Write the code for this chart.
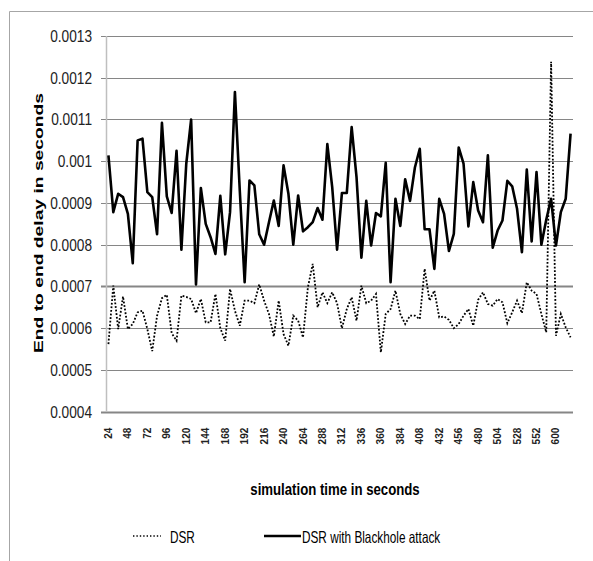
<!DOCTYPE html>
<html>
<head>
<meta charset="utf-8">
<script src="https://cdn.jsdelivr.net/npm/d3@7"></script>
<style>
  html, body { margin: 0; padding: 0; background: #fff; }
  svg { display: block; }
</style>
</head>
<body>
<div id="chart"></div>
<script>
// DSR without attack (dotted line), one value per sample
const dsrDelay = [
  0.000562, 0.000702, 0.000598, 0.000676, 0.000598, 0.000610, 0.000638, 0.000642,
  0.000598, 0.000545, 0.000630, 0.000672, 0.000680, 0.000588, 0.000570, 0.000678,
  0.000675, 0.000670, 0.000636, 0.000670, 0.000614, 0.000614, 0.000682, 0.000600,
  0.000570, 0.000694, 0.000642, 0.000606, 0.000666, 0.000666, 0.000660, 0.000705,
  0.000666, 0.000634, 0.000580, 0.000666, 0.000586, 0.000558, 0.000630, 0.000618,
  0.000578, 0.000698, 0.000754, 0.000650, 0.000686, 0.000660, 0.000686, 0.000660,
  0.000600, 0.000646, 0.000674, 0.000618, 0.000702, 0.000660, 0.000666, 0.000682,
  0.000542, 0.000634, 0.000646, 0.000690, 0.000634, 0.000610, 0.000630, 0.000630,
  0.000622, 0.000742, 0.000666, 0.000690, 0.000626, 0.000628, 0.000620, 0.000600,
  0.000610, 0.000630, 0.000646, 0.000606, 0.000668, 0.000686, 0.000658, 0.000654,
  0.000670, 0.000662, 0.000612, 0.000638, 0.000666, 0.000636, 0.000710, 0.000690,
  0.000682, 0.000634, 0.000590, 0.001238, 0.000582, 0.000634, 0.000602, 0.000578,
];

// DSR with blackhole attack (solid line)
const blackholeDelay = [
  0.001014, 0.000878, 0.000922, 0.000914, 0.000874, 0.000756, 0.001050, 0.001054,
  0.000926, 0.000914, 0.000825, 0.001092, 0.000916, 0.000876, 0.001025, 0.000788,
  0.000994, 0.001100, 0.000705, 0.000936, 0.000850, 0.000818, 0.000778, 0.000917,
  0.000777, 0.000878, 0.001166, 0.000930, 0.000710, 0.000954, 0.000942, 0.000825,
  0.000800, 0.000854, 0.000906, 0.000845, 0.000990, 0.000922, 0.000800, 0.000918,
  0.000832, 0.000842, 0.000854, 0.000888, 0.000860, 0.001041, 0.000938, 0.000788,
  0.000924, 0.000924, 0.001082, 0.000962, 0.000769, 0.000905, 0.000798, 0.000876,
  0.000868, 0.000996, 0.000710, 0.000910, 0.000845, 0.000957, 0.000905, 0.000985,
  0.001030, 0.000837, 0.000837, 0.000742, 0.000910, 0.000874, 0.000785, 0.000826,
  0.001033, 0.000994, 0.000844, 0.000950, 0.000882, 0.000854, 0.001014, 0.000793,
  0.000834, 0.000858, 0.000953, 0.000940, 0.000886, 0.000782, 0.000980, 0.000808,
  0.000974, 0.000800, 0.000860, 0.000910, 0.000798, 0.000878, 0.000910, 0.001066,
];

// printed category labels, one every 4 samples
const xTickLabels = [
  24, 48, 72, 96, 120, 144, 168, 192, 216, 240, 264, 288,
  312, 336, 360, 384, 408, 432, 456, 480, 504, 528, 552, 600,
];
const samplesPerLabel = 4;

const yTicks = [0.0004, 0.0005, 0.0006, 0.0007, 0.0008, 0.0009, 0.001, 0.0011, 0.0012, 0.0013];

const seriesNames = ["DSR", "DSR with Blackhole attack"];

const width = 593;
const height = 561;
const plot = { left: 106, right: 573, top: 36, bottom: 411.7 };

const font = "'Liberation Sans', Arial, sans-serif";

const svg = d3
  .select("#chart")
  .append("svg")
  .attr("width", width)
  .attr("height", height)
  .attr("viewBox", [0, 0, width, height]);

// outer frame
svg
  .append("path")
  .attr("d", `M9.5,${height} V11.5 H${width}`)
  .attr("fill", "none")
  .attr("stroke", "#a6a6a6")
  .attr("stroke-width", 1);

const x = d3
  .scaleBand()
  .domain(d3.range(blackholeDelay.length))
  .range([plot.left, plot.right]);

const y = d3
  .scaleLinear()
  .domain([0.0004, 0.0013])
  .range([plot.bottom, plot.top]);

const cx = (i) => x(i) + x.bandwidth() / 2;

// horizontal gridlines (with small outside ticks)
svg
  .append("g")
  .selectAll("line")
  .data(yTicks)
  .join("line")
  .attr("x1", plot.left - 5)
  .attr("x2", plot.right)
  .attr("y1", (d) => Math.round(y(d)) + 0.5)
  .attr("y2", (d) => Math.round(y(d)) + 0.5)
  .attr("stroke", "#868686")
  .attr("stroke-width", (d) => (d === 0.0004 || d === 0.0007 ? 2 : 1));

// y axis line
svg
  .append("line")
  .attr("x1", plot.left + 0.5)
  .attr("x2", plot.left + 0.5)
  .attr("y1", plot.top)
  .attr("y2", plot.bottom)
  .attr("stroke", "#bfbfbf")
  .attr("stroke-width", 1.5);

// y tick labels (the source text is tall and narrow, so stretch vertically)
const yAxis = d3
  .axisLeft(y)
  .tickValues(yTicks)
  .tickSize(0)
  .tickPadding(14)
  .tickFormat((d) => String(+d.toFixed(4)));

svg
  .append("g")
  .attr("transform", `translate(${plot.left},0)`)
  .call(yAxis)
  .call((g) => g.select(".domain").remove())
  .selectAll("text")
  .attr("font-family", font)
  .attr("font-size", 13.7)
  .attr("transform", "scale(1,1.24)")
  .attr("fill", "#222");

// x tick labels (rotated)
const labelIndex = xTickLabels.map((_, k) => k * samplesPerLabel);

svg
  .append("g")
  .selectAll("text")
  .data(labelIndex)
  .join("text")
  .attr("transform", (i) => `translate(${cx(i) + 3.5},${plot.bottom + 16}) rotate(-90)`)
  .attr("text-anchor", "end")
  .attr("font-family", font)
  .attr("font-size", 10)
  .attr("font-weight", "bold")
  .attr("fill", "#222")
  .text((i, k) => xTickLabels[k]);

// series lines
const line = (values) =>
  d3
    .line()
    .x((d, i) => cx(i))
    .y((d) => y(d))(values);

svg
  .append("path")
  .attr("d", line(dsrDelay))
  .attr("fill", "none")
  .attr("stroke", "#000")
  .attr("stroke-width", 1.8)
  .attr("stroke-dasharray", "1.8,1.8");

svg
  .append("path")
  .attr("d", line(blackholeDelay))
  .attr("fill", "none")
  .attr("stroke", "#000")
  .attr("stroke-width", 2.6)
  .attr("stroke-linejoin", "round");

// axis titles
svg
  .append("text")
  .attr("transform", `translate(43,223) rotate(-90) scale(1.45,1)`)
  .attr("text-anchor", "middle")
  .attr("font-family", font)
  .attr("font-weight", "bold")
  .attr("font-size", 13.3)
  .attr("fill", "#000")
  .text("End to end delay in seconds");

svg
  .append("text")
  .attr("transform", "translate(335,495) scale(1,1.28)")
  .attr("text-anchor", "middle")
  .attr("font-family", font)
  .attr("font-weight", "bold")
  .attr("font-size", 13.2)
  .attr("fill", "#000")
  .text("simulation time in seconds");

// legend
const legend = svg.append("g").attr("transform", "translate(0,536)");

legend
  .append("line")
  .attr("x1", 133)
  .attr("x2", 161)
  .attr("stroke", "#000")
  .attr("stroke-width", 1.4)
  .attr("stroke-dasharray", "1.4,2");

legend
  .append("line")
  .attr("x1", 264)
  .attr("x2", 301)
  .attr("stroke", "#000")
  .attr("stroke-width", 2.6);

legend
  .selectAll("text")
  .data(seriesNames)
  .join("text")
  .attr("transform", (d, k) => `translate(${k === 0 ? 170 : 302},7) scale(1,1.38)`)
  .attr("font-family", font)
  .attr("font-size", 11.8)
  .attr("fill", "#000")
  .text((d) => d);
</script>
</body>
</html>
